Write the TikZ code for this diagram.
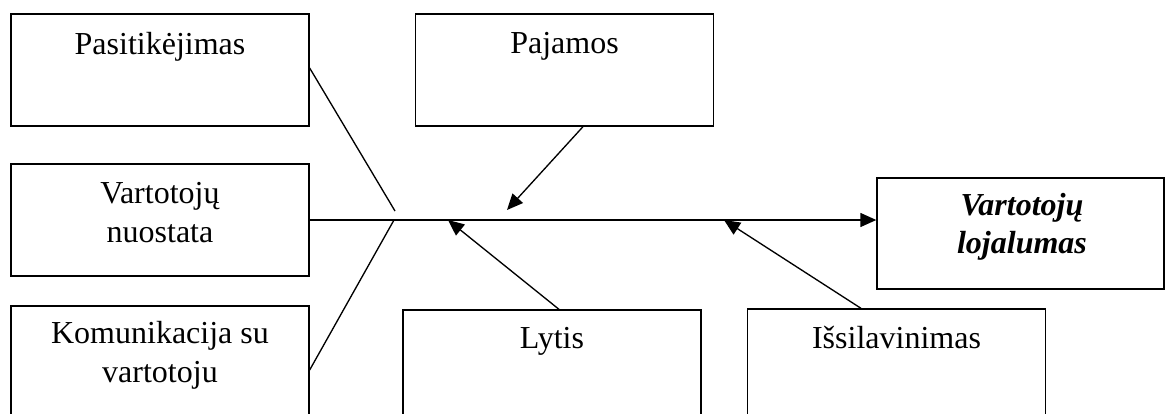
\documentclass[tikz,border=0pt]{standalone}
\usepackage{fontspec}
\setmainfont{Liberation Serif}
\usetikzlibrary{arrows.meta,calc}
\begin{document}
\begin{tikzpicture}[x=0.75pt,y=-0.75pt,
  box/.style={draw,line width=1pt,rectangle,inner sep=0pt,minimum width=223.5pt,minimum height=84pt},
  lbl/.style={anchor=base,inner sep=0pt,align=center,font=\fontsize{24pt}{29pt}\selectfont},
  link/.style={line width=1pt},
  arr/.style={line width=1pt,-{Triangle[length=12pt,width=10.5pt]}}]
\useasboundingbox (0,0) rectangle (1165,414);
% factor boxes
\node[box] (pas) at (160,70) {};
\node[box] (nuo) at (160,220) {};
\node[box] (kom) at (160,362) {};
\node[box] (paj) at (564.5,70) {};
\node[box] (lyt) at (552,366) {};
\node[box] (iss) at (896.5,365) {};
\node[box,minimum width=215.25pt,minimum height=83.25pt] (loj) at (1020.5,233.5) {};
% box texts (base anchor = baseline of the last line)
\node[lbl] (tpas) at (160,54) {Pasitikėjimas};
\node[lbl] (tnuo) at (160,242) {Vartotojų\\nuostata};
\node[lbl] (tkom) at (160,382) {Komunikacija su\\vartotoju};
\node[lbl] (tpaj) at (564.5,53) {Pajamos};
\node[lbl] (tlyt) at (552,348) {Lytis};
\node[lbl] (tiss) at (896.5,348) {Išsilavinimas};
\node[lbl,font=\fontsize{24pt}{28pt}\selectfont\bfseries\itshape] (tloj) at (1022,253) {Vartotojų\\lojalumas};
% spine and junction points
\coordinate (jt) at (395,211);
\coordinate (j) at (394,220);
\coordinate (ta) at (507,210);
\coordinate (tb) at (448,220);
\coordinate (tc) at (724,220);
\draw[link] ($(pas.east)+(0,-2)$) -- (jt);
\draw[link] ($(kom.east)+(0,8)$) -- (j);
\draw[arr] (nuo.east) -- (loj.west |- nuo.east);
\draw[arr] ($(paj.south)+(18.5,0)$) -- (ta);
\draw[arr] ($(lyt.north)+(7,0)$) -- (tb);
\draw[arr] ($(iss.north)+(-35.5,0)$) -- (tc);
\end{tikzpicture}
\end{document}
